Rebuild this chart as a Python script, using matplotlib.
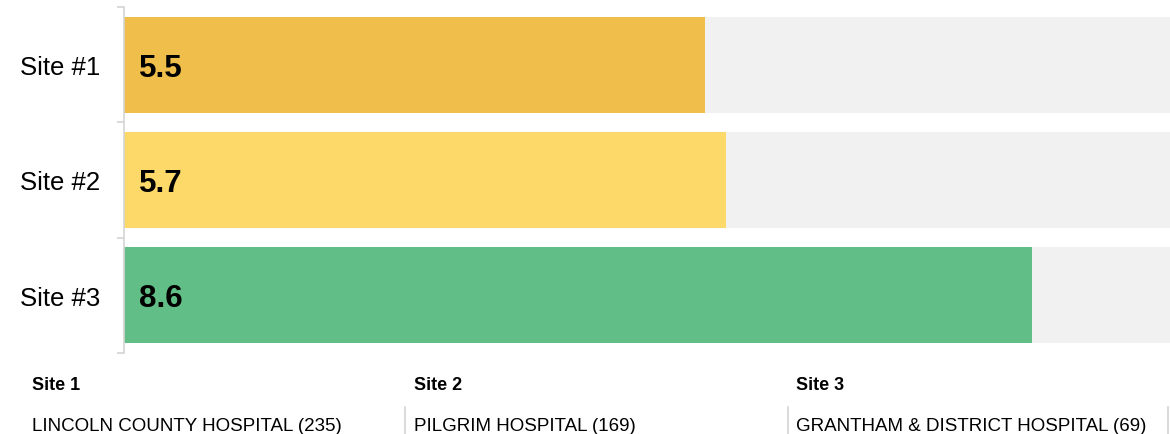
#!/usr/bin/env python3
"""Horizontal score bars per hospital site, with a site legend underneath."""

import matplotlib
matplotlib.use("Agg")
import matplotlib.pyplot as plt
from matplotlib.lines import Line2D

plt.rcParams["font.family"] = ["Liberation Sans", "DejaVu Sans"]

SITES = ["Site #1", "Site #2", "Site #3"]
SCORES = [5.5, 5.7, 8.6]
SCALE_MAX = 10
SITE_COLORS = ["#F0BE4A", "#FDD96A", "#60BE86"]
TRACK_COLOR = "#F1F1F1"
AXIS_GREY = "#D4D4D4"

KEY_TITLES = ["Site 1", "Site 2", "Site 3"]
KEY_NAMES = [
    "LINCOLN COUNTY HOSPITAL (235)",
    "PILGRIM HOSPITAL (169)",
    "GRANTHAM & DISTRICT HOSPITAL (69)",
]

W, H, DPI = 1170, 435, 100
PX = 72 / DPI  # points per pixel


def main():
    fig = plt.figure(figsize=(W / DPI, H / DPI), dpi=DPI)
    ax = fig.add_axes([124 / W, 1 - 354 / H, 1 - 124 / W, 346 / H])

    ypos = list(range(len(SITES)))
    ax.barh(ypos, [SCALE_MAX] * len(SITES), height=0.83, color=TRACK_COLOR, zorder=1)
    ax.barh(ypos, SCORES, height=0.83, color=SITE_COLORS, zorder=2)

    for y, v in zip(ypos, SCORES):
        ax.annotate(f"{v}", xy=(0, y), xytext=(15 * PX, -3 * PX),
                    textcoords="offset points", ha="left", va="center",
                    fontsize=22.5, fontweight="bold", color="black", zorder=3)

    ax.set_xlim(0, (1170 - 124) / 105.6)
    ax.set_ylim(len(SITES) - 0.5, -0.5)

    ax.set_yticks(ypos)
    ax.set_yticklabels(SITES, fontsize=18.5)
    ax.tick_params(axis="y", which="major", length=0, pad=17)
    ax.set_yticks([i - 0.5 for i in range(len(SITES) + 1)], minor=True)
    ax.tick_params(axis="y", which="minor", length=5, width=1.2, color=AXIS_GREY)
    ax.set_xticks([])

    for side in ("top", "right", "bottom"):
        ax.spines[side].set_visible(False)
    ax.spines["left"].set_color(AXIS_GREY)
    ax.spines["left"].set_linewidth(1.2)

    # site key along the bottom
    col_x = [32, 414, 796]
    sep_x = [405, 788, 1168]
    for x, title, name in zip(col_x, KEY_TITLES, KEY_NAMES):
        fig.text(x / W, 1 - 386 / H, title, fontsize=13, fontweight="bold",
                 ha="left", va="center")
        fig.text(x / W, 1 - 427 / H, name, fontsize=13.5, ha="left", va="center")
    for x in sep_x:
        fig.add_artist(Line2D([x / W, x / W], [1 - 408 / H, 0],
                              color=AXIS_GREY, linewidth=1.2))

    fig.savefig("out.png", dpi=DPI)


if __name__ == "__main__":
    main()
